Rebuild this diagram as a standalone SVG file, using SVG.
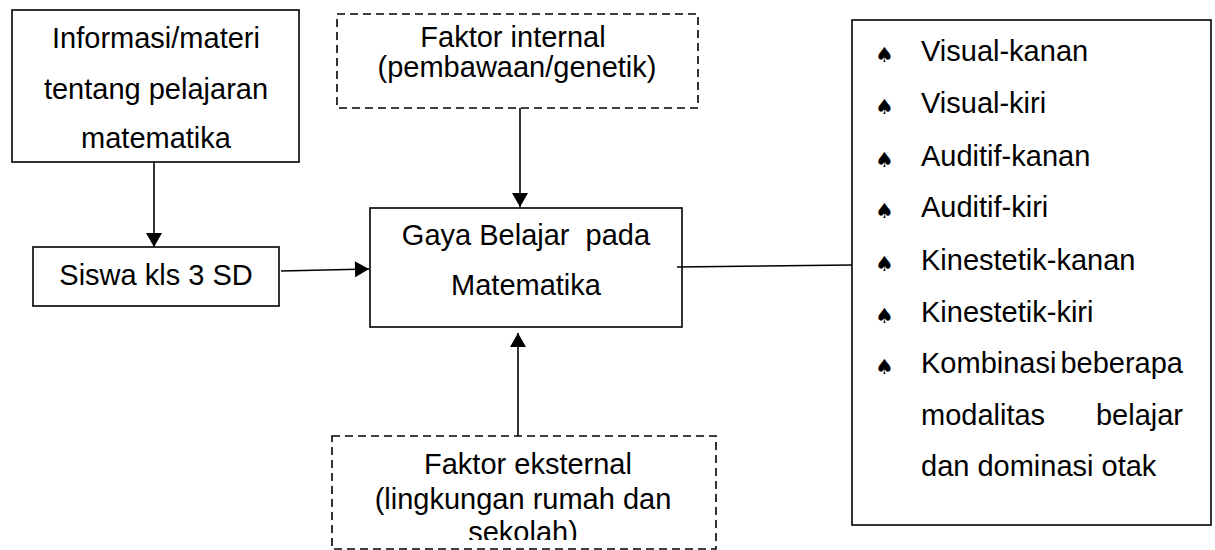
<svg xmlns="http://www.w3.org/2000/svg" width="1215" height="550" viewBox="0 0 1215 550">
<style>
text{font-family:"Liberation Sans",Arial,sans-serif;font-size:29px;fill:#000}
.c{text-anchor:middle}
.box{fill:#fff;stroke:#000;stroke-width:1.6}
.dash{fill:#fff;stroke:#000;stroke-width:1.6;stroke-dasharray:8 5}
.con{stroke:#000;stroke-width:1.6;fill:none}
.sp{font-family:"DejaVu Sans",sans-serif;font-size:21px}
</style>
<defs>
<marker id="ah" markerUnits="userSpaceOnUse" markerWidth="16" markerHeight="16" viewBox="0 0 14 16" refX="14" refY="8" orient="auto">
<path d="M0,0 L14,8 L0,16 Z" fill="#000"/>
</marker>
<clipPath id="clipE"><rect x="330" y="436" width="390" height="104"/></clipPath>
</defs>
<rect width="1215" height="550" fill="#fff"/>

<g id="informasi">
<rect class="box" x="12" y="10" width="287" height="152"/>
<text class="c" x="156" y="48">Informasi/materi</text>
<text class="c" x="156" y="99">tentang pelajaran</text>
<text class="c" x="156" y="148">matematika</text>
</g>

<g id="siswa">
<rect class="box" x="33" y="247" width="246" height="59"/>
<text class="c" x="156" y="285">Siswa kls 3 SD</text>
</g>

<g id="internal">
<rect class="dash" x="337" y="14" width="361" height="94"/>
<text class="c" x="513" y="47">Faktor internal</text>
<text class="c" x="517" y="77">(pembawaan/genetik)</text>
</g>

<g id="gaya">
<rect class="box" x="370" y="208" width="312" height="119"/>
<text class="c" x="526" y="245" xml:space="preserve">Gaya Belajar  pada</text>
<text class="c" x="526" y="295">Matematika</text>
</g>

<g id="eksternal">
<rect class="dash" x="332" y="436" width="384" height="113"/>
<g clip-path="url(#clipE)">
<text class="c" x="528" y="474">Faktor eksternal</text>
<text class="c" x="523" y="509">(lingkungan rumah dan</text>
<text class="c" x="523" y="542">sekolah)</text>
</g>
</g>

<g id="gaya-list">
<rect class="box" x="852" y="20" width="359" height="505"/>
<text class="sp" x="875" y="62">♠</text><text x="921" y="61">Visual-kanan</text>
<text class="sp" x="875" y="114">♠</text><text x="921" y="113">Visual-kiri</text>
<text class="sp" x="875" y="167">♠</text><text x="921" y="166">Auditif-kanan</text>
<text class="sp" x="875" y="218">♠</text><text x="921" y="217">Auditif-kiri</text>
<text class="sp" x="875" y="271">♠</text><text x="921" y="270">Kinestetik-kanan</text>
<text class="sp" x="875" y="323">♠</text><text x="921" y="322">Kinestetik-kiri</text>
<text class="sp" x="875" y="374">♠</text><text x="921" y="373">Kombinasi</text><text x="1183" y="373" text-anchor="end">beberapa</text>
<text x="921" y="425">modalitas</text><text x="1183" y="425" text-anchor="end">belajar</text>
<text x="921" y="476">dan dominasi otak</text>
</g>

<g id="connectors">
<line class="con" x1="154" y1="162" x2="154" y2="247" marker-end="url(#ah)"/>
<line class="con" x1="281" y1="271" x2="369" y2="269" marker-end="url(#ah)"/>
<line class="con" x1="520" y1="108" x2="520" y2="207" marker-end="url(#ah)"/>
<line class="con" x1="518" y1="436" x2="518" y2="333" marker-end="url(#ah)"/>
<line class="con" x1="677" y1="267" x2="852" y2="265"/>
</g>
</svg>
